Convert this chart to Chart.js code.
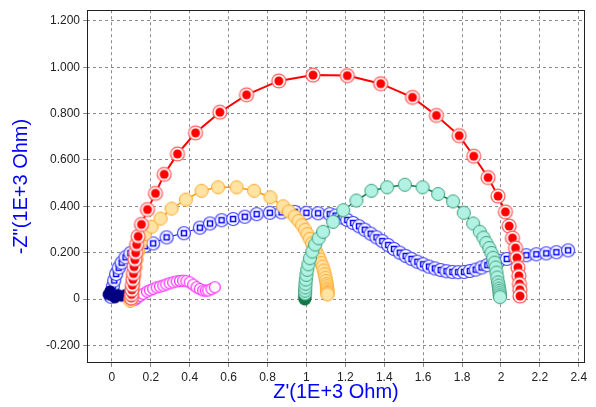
<!DOCTYPE html>
<html>
<head>
<meta charset="utf-8">
<script src="https://cdn.jsdelivr.net/npm/chart.js@4/dist/chart.umd.min.js"></script>
<style>
html,body{margin:0;padding:0;background:#fff;}
#wrap{width:596px;height:407px;}
</style>
</head>
<body>
<div id="wrap"><canvas id="c" width="596" height="407"></canvas></div>
<script>
// ---- data (Z' , -Z'') in 1E+3 Ohm ----
const xTicks = [0,0.2,0.4,0.6,0.8,1,1.2,1.4,1.6,1.8,2,2.2,2.4];
const yTicks = [-0.2,0,0.2,0.4,0.6,0.8,1.0,1.2];

const redX = [0.100,0.101,0.103,0.105,0.108,0.111,0.114,0.118,0.122,0.127,0.135,0.152,0.183,0.224,0.269,0.337,0.430,0.555,0.692,0.858,1.034,1.210,1.382,1.545,1.668,1.785,1.860,1.934,1.985,2.023,2.042,2.059,2.075,2.082,2.087,2.092,2.095,2.097,2.098];
const redY = [0.005,0.020,0.040,0.060,0.085,0.110,0.140,0.170,0.200,0.235,0.270,0.322,0.386,0.456,0.538,0.626,0.717,0.806,0.881,0.941,0.966,0.964,0.929,0.870,0.792,0.705,0.616,0.524,0.444,0.376,0.315,0.263,0.220,0.178,0.136,0.100,0.065,0.040,0.013];

const orangeX = [0.095,0.097,0.099,0.102,0.106,0.110,0.115,0.121,0.127,0.135,0.148,0.170,0.204,0.250,0.307,0.380,0.461,0.546,0.641,0.731,0.815,0.880,0.910,0.940,0.960,0.978,0.993,1.005,1.017,1.028,1.040,1.050,1.060,1.068,1.076,1.083,1.089,1.094,1.098,1.101,1.104,1.105,1.107,1.107,1.108,1.108,1.108];
const orangeY = [-0.008,0.000,0.008,0.022,0.045,0.068,0.100,0.136,0.171,0.206,0.245,0.280,0.312,0.347,0.390,0.429,0.467,0.482,0.482,0.467,0.439,0.400,0.378,0.356,0.337,0.318,0.299,0.280,0.260,0.240,0.222,0.205,0.188,0.171,0.155,0.140,0.123,0.107,0.092,0.078,0.065,0.055,0.045,0.038,0.030,0.025,0.020];

const greenX = [0.992,0.992,0.992,0.993,0.993,0.994,0.995,0.997,1.000,1.004,1.010,1.018,1.030,1.045,1.063,1.086,1.137,1.189,1.257,1.334,1.415,1.506,1.597,1.677,1.754,1.809,1.857,1.891,1.910,1.925,1.940,1.951,1.960,1.968,1.973,1.977,1.981,1.985,1.988,1.990,1.992,1.993,1.994,1.995];
const greenY = [0.000,0.006,0.014,0.024,0.036,0.050,0.066,0.084,0.104,0.126,0.150,0.176,0.205,0.235,0.262,0.290,0.333,0.383,0.425,0.467,0.482,0.493,0.482,0.453,0.421,0.372,0.326,0.290,0.265,0.242,0.220,0.199,0.178,0.157,0.136,0.114,0.093,0.072,0.058,0.045,0.035,0.025,0.016,0.008];

const blueX = [-0.005,0.000,0.005,0.012,0.022,0.035,0.050,0.070,0.095,0.130,0.170,0.212,0.281,0.370,0.452,0.504,0.564,0.623,0.683,0.744,0.812,0.872,0.940,1.000,1.060,1.120,1.150,1.180,1.210,1.240,1.270,1.300,1.330,1.360,1.390,1.420,1.450,1.480,1.510,1.540,1.570,1.600,1.630,1.660,1.690,1.720,1.750,1.780,1.810,1.840,1.870,1.900,1.930,1.960,1.990,2.030,2.075,2.130,2.182,2.233,2.285,2.345];
const blueY = [0.010,0.030,0.055,0.080,0.108,0.135,0.157,0.180,0.198,0.215,0.228,0.240,0.266,0.284,0.308,0.326,0.340,0.345,0.355,0.366,0.372,0.374,0.376,0.372,0.370,0.366,0.360,0.352,0.341,0.328,0.314,0.299,0.282,0.266,0.250,0.233,0.216,0.200,0.186,0.173,0.161,0.150,0.140,0.132,0.125,0.120,0.117,0.116,0.117,0.121,0.127,0.136,0.146,0.156,0.165,0.173,0.183,0.189,0.193,0.197,0.202,0.210];

const navyX = [-0.020,-0.010,0.000,0.015,0.030,0.050,0.070,0.085,0.100];
const navyY = [0.020,0.035,0.015,0.005,0.020,0.012,0.020,0.010,0.020];

const magentaX = [0.118,0.130,0.145,0.161,0.180,0.195,0.212,0.230,0.247,0.264,0.280,0.297,0.315,0.333,0.350,0.366,0.383,0.400,0.418,0.435,0.452,0.469,0.483,0.495,0.512,0.529];
const magentaY = [-0.004,0.005,0.014,0.022,0.032,0.038,0.044,0.050,0.054,0.058,0.063,0.068,0.072,0.076,0.078,0.079,0.077,0.072,0.062,0.051,0.043,0.037,0.036,0.037,0.043,0.051];

function pts(xs, ys){ return xs.map((x,i)=>({x:x, y:ys[i]})); }

// ---- marker images ----
function mk(size, draw){ const c=document.createElement('canvas'); c.width=size; c.height=size; draw(c.getContext('2d'), size/2); return c; }
function circ(ctx,c,r){ ctx.beginPath(); ctx.arc(c,c,r,0,Math.PI*2); }
const redMark = mk(18,(g,c)=>{ circ(g,c,7.6); g.fillStyle='#ff5a5a'; g.fill(); circ(g,c,6.3); g.fillStyle='#ffffff'; g.fill(); circ(g,c,4.5); g.fillStyle='#ff0000'; g.fill(); });
const orangeMark = mk(16,(g,c)=>{ circ(g,c,6.5); g.fillStyle='#ffe3a3'; g.fill(); g.lineWidth=1; g.strokeStyle='#ffa62a'; g.stroke(); });
const greenMark = mk(16,(g,c)=>{ circ(g,c,6.5); g.fillStyle='#b2f2e4'; g.fill(); g.lineWidth=1; g.strokeStyle='#3a9e78'; g.stroke(); });
const darkGreenMark = mk(16,(g,c)=>{ circ(g,c,6.5); g.fillStyle='#127a48'; g.fill(); });
const blueMark = mk(16,(g,c)=>{ circ(g,c,6.5); g.fillStyle='#ffffff'; g.fill(); g.lineWidth=1.2; g.strokeStyle='#3a3aff'; g.stroke(); g.lineWidth=1.5; g.strokeStyle='#0000ff'; g.strokeRect(c-2.5,c-2.5,5,5); });
const magMark = mk(14,(g,c)=>{ circ(g,c,5.5); g.fillStyle='#ffffff'; g.fill(); g.lineWidth=1.2; g.strokeStyle='#ff22ff'; g.stroke(); });
const navyMark = mk(14,(g,c)=>{ circ(g,c,5.5); g.fillStyle='#000080'; g.fill(); });

const frame = {
  id:'frame',
  afterDraw(chart){ const a=chart.chartArea, g=chart.ctx; g.save(); g.strokeStyle='#222'; g.lineWidth=1; g.strokeRect(Math.round(a.left)+0.5, Math.round(a.top)+0.5, Math.round(a.right-a.left)-1, Math.round(a.bottom-a.top)-1); g.restore(); }
};

function ds(data, color, width, mark){
  return {data:data, showLine:true, borderColor:color, borderWidth:width, pointStyle:mark, pointRadius:5, tension:0, fill:false};
}

const green = ds(pts(greenX,greenY),'#0a7a4a',1.5,greenMark);
green.pointStyle = (ctx)=> (ctx.dataIndex<=2 ? darkGreenMark : greenMark);

new Chart(document.getElementById('c'), {
  type:'scatter',
  data:{ datasets:[
    ds(pts(redX,redY),'#ff0000',2,redMark),
    green,
    ds(pts(orangeX,orangeY),'#ff9900',1.5,orangeMark),
    ds(pts(navyX,navyY),'#000080',1,navyMark),
    ds(pts(magentaX,magentaY),'#ff00ff',1,magMark),
    ds(pts(blueX,blueY),'#0000ff',1,blueMark)
  ]},
  options:{
    responsive:false, animation:false, devicePixelRatio:1,
    layout:{padding:{left:0,right:11,top:3,bottom:0}},
    plugins:{legend:{display:false}, tooltip:{enabled:false}},
    scales:{
      x:{ type:'linear', min:-0.128, max:2.432,
        afterBuildTicks(s){ s.ticks = xTicks.map(v=>({value:v})); },
        afterFit(s){ s.height = 44; },
        grid:{color:'#8c8c8c', lineWidth:1, tickLength:4, drawTicks:true},
        border:{display:false, dash:[3,3]},
        ticks:{ color:'#222', font:{family:'Liberation Sans, Arial', size:12}, padding:3, maxRotation:0, autoSkip:false,
          callback:(v)=> v===0 ? '0' : String(Math.round(v*10)/10) },
        title:{ display:true, text:"Z'(1E+3 Ohm)", color:'#0000ff', font:{family:'Liberation Sans, Arial', size:20}, padding:{top:0,bottom:3} }
      },
      y:{ type:'linear', min:-0.276, max:1.246,
        afterBuildTicks(s){ s.ticks = yTicks.map(v=>({value:v})); },
        afterFit(s){ s.width = 87; },
        grid:{color:'#8c8c8c', lineWidth:1, tickLength:4, drawTicks:true},
        border:{display:false, dash:[3,3]},
        ticks:{ color:'#222', font:{family:'Liberation Sans, Arial', size:12}, padding:3, autoSkip:false,
          callback:(v)=> Math.abs(v)<1e-9 ? '0' : v.toFixed(3) },
        title:{ display:true, text:'-Z"(1E+3 Ohm)', color:'#0000ff', font:{family:'Liberation Sans, Arial', size:20}, padding:{top:9,bottom:0} }
      }
    }
  },
  plugins:[frame]
});
</script>
</body>
</html>
